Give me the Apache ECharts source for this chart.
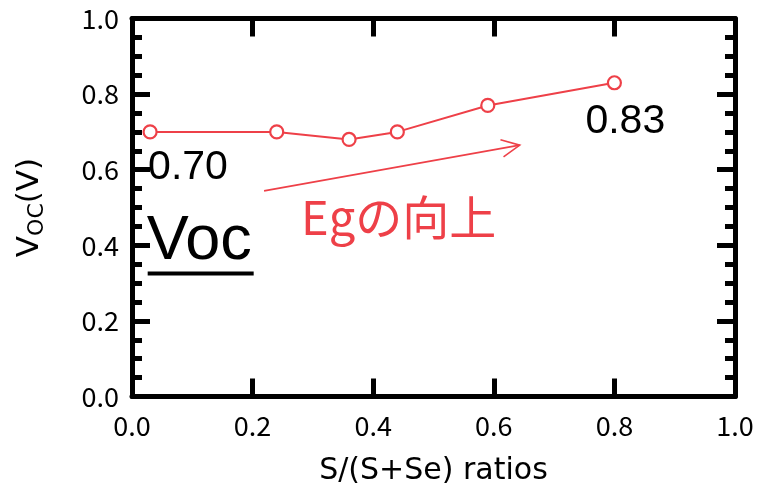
<!DOCTYPE html>
<html><head><meta charset="utf-8">
<script src="https://cdn.jsdelivr.net/npm/echarts@6/dist/echarts.min.js"></script>
<style>html,body{margin:0;padding:0;background:#fff}#c{width:758px;height:489px}</style>
</head><body><div id="c"></div>
<script>
// Data
const ratios = [0.03, 0.24, 0.36, 0.44, 0.59, 0.80];
const vocValues = [0.70, 0.70, 0.68, 0.70, 0.77, 0.83];
const xTicks = [0.0, 0.2, 0.4, 0.6, 0.8, 1.0];
const yTicks = [0.0, 0.2, 0.4, 0.6, 0.8, 1.0];
const firstLabel = '0.70';
const lastLabel = '0.83';
const annoTitle = 'Voc';
const arrowText = 'Egの向上';
// arrow (in data coordinates)
const arrowFrom = [0.219, 0.544];
const arrowTo = [0.643, 0.665];

const RED = '#EE4048';
const chart = echarts.init(document.getElementById('c'), null, {renderer: 'canvas'});
const labelFont = 'Noto Sans CJK JP';
const titleFont = 'DejaVu Sans';
const axisCommon = {
  type: 'value', min: 0, max: 1, interval: 0.2,
  axisLine: {show: true, onZero: false, lineStyle: {color: '#000', width: 5}},
  splitLine: {show: false}
};
const option = {
  animation: false,
  grid: {left: 132, right: 23, top: 18.5, bottom: 92.5, containLabel: false, outerBoundsMode: 'none'},
  xAxis: [
    Object.assign({}, axisCommon, {
      position: 'bottom',
      name: 'S/(S+Se) ratios', nameLocation: 'middle', nameGap: 60,
      nameTextStyle: {fontFamily: titleFont, fontSize: 30, color: '#000'},
      axisTick: {inside: true, length: 18, lineStyle: {width: 5, color: '#000'}},
      axisLabel: {fontFamily: labelFont, fontSize: 27, color: '#000', margin: 16,
        formatter: v => v.toFixed(1)}
    }),
    Object.assign({}, axisCommon, {
      position: 'top',
      axisTick: {inside: true, length: 18, lineStyle: {width: 5, color: '#000'}},
      axisLabel: {show: false}
    })
  ],
  yAxis: [
    Object.assign({}, axisCommon, {
      position: 'left',
      name: '{v|V}{s|OC}{v|(V)}', nameLocation: 'middle', nameGap: 84, nameRotate: 90,
      nameTextStyle: {rich: {
        v: {fontFamily: titleFont, fontSize: 31, color: '#000'},
        s: {fontFamily: titleFont, fontSize: 22, color: '#000', verticalAlign: 'bottom', padding: [14, 0, 0, 0]}
      }},
      axisTick: {inside: true, length: 18, lineStyle: {width: 5, color: '#000'}},
      minorTick: {show: true, splitNumber: 4, length: 10, lineStyle: {width: 5, color: '#000'}},
      axisLabel: {fontFamily: labelFont, fontSize: 27, color: '#000', margin: 13,
        formatter: v => v.toFixed(1)}
    }),
    Object.assign({}, axisCommon, {
      position: 'right',
      axisTick: {inside: true, length: 18, lineStyle: {width: 5, color: '#000'}},
      minorTick: {show: true, splitNumber: 4, length: 10, lineStyle: {width: 5, color: '#000'}},
      axisLabel: {show: false}
    })
  ],
  series: [{
    type: 'line',
    xAxisIndex: 0, yAxisIndex: 0,
    data: ratios.map((x, i) => [x, vocValues[i]]),
    symbol: 'circle', symbolSize: 13,
    itemStyle: {color: '#fff', borderColor: RED, borderWidth: 2.2},
    lineStyle: {color: RED, width: 2},
    z: 5
  }]
};
chart.setOption(option);

function px(p) { return chart.convertToPixel({xAxisIndex: 0, yAxisIndex: 0}, p); }
const pFirst = px([ratios[0], vocValues[0]]);
const pLast = px([ratios[ratios.length - 1], vocValues[vocValues.length - 1]]);
const a0 = px(arrowFrom), a1 = px(arrowTo);
const ang = Math.atan2(a1[1] - a0[1], a1[0] - a0[0]);
const hl = 20, ha = 0.45;
const h1 = [a1[0] - hl * Math.cos(ang - ha), a1[1] - hl * Math.sin(ang - ha)];
const h2 = [a1[0] - hl * Math.cos(ang + ha), a1[1] - hl * Math.sin(ang + ha)];
const numFont = {fontFamily: 'Liberation Sans', fontSize: 41, fill: '#000'};
const vocPos = px([0.026, 0.41]);
chart.setOption({graphic: [
  {type: 'text', x: pFirst[0] - 2, y: pFirst[1] + 36, style: Object.assign({text: firstLabel, align: 'left', verticalAlign: 'middle'}, numFont)},
  {type: 'text', x: pLast[0] - 29, y: pLast[1] + 39, style: Object.assign({text: lastLabel, align: 'left', verticalAlign: 'middle'}, numFont)},
  {type: 'text', x: vocPos[0] - 1, y: vocPos[1], style: {text: annoTitle, align: 'left', verticalAlign: 'middle', fontFamily: 'Liberation Sans', fontSize: 63, fill: '#000'}},
  {type: 'line', shape: {x1: vocPos[0], y1: vocPos[1] + 32, x2: vocPos[0] + 106, y2: vocPos[1] + 32}, style: {stroke: '#000', lineWidth: 4}},
  {type: 'polyline', shape: {points: [a0, a1]}, style: {stroke: RED, lineWidth: 1.6, fill: null}},
  {type: 'polyline', shape: {points: [h1, a1, h2]}, style: {stroke: RED, lineWidth: 1.6, fill: null}},
  {type: 'text', x: a0[0] + 37, y: a0[1] + 26, style: {text: arrowText, align: 'left', verticalAlign: 'middle', fontFamily: 'Noto Sans CJK JP', fontSize: 47, fill: RED}}
]});
</script></body></html>
